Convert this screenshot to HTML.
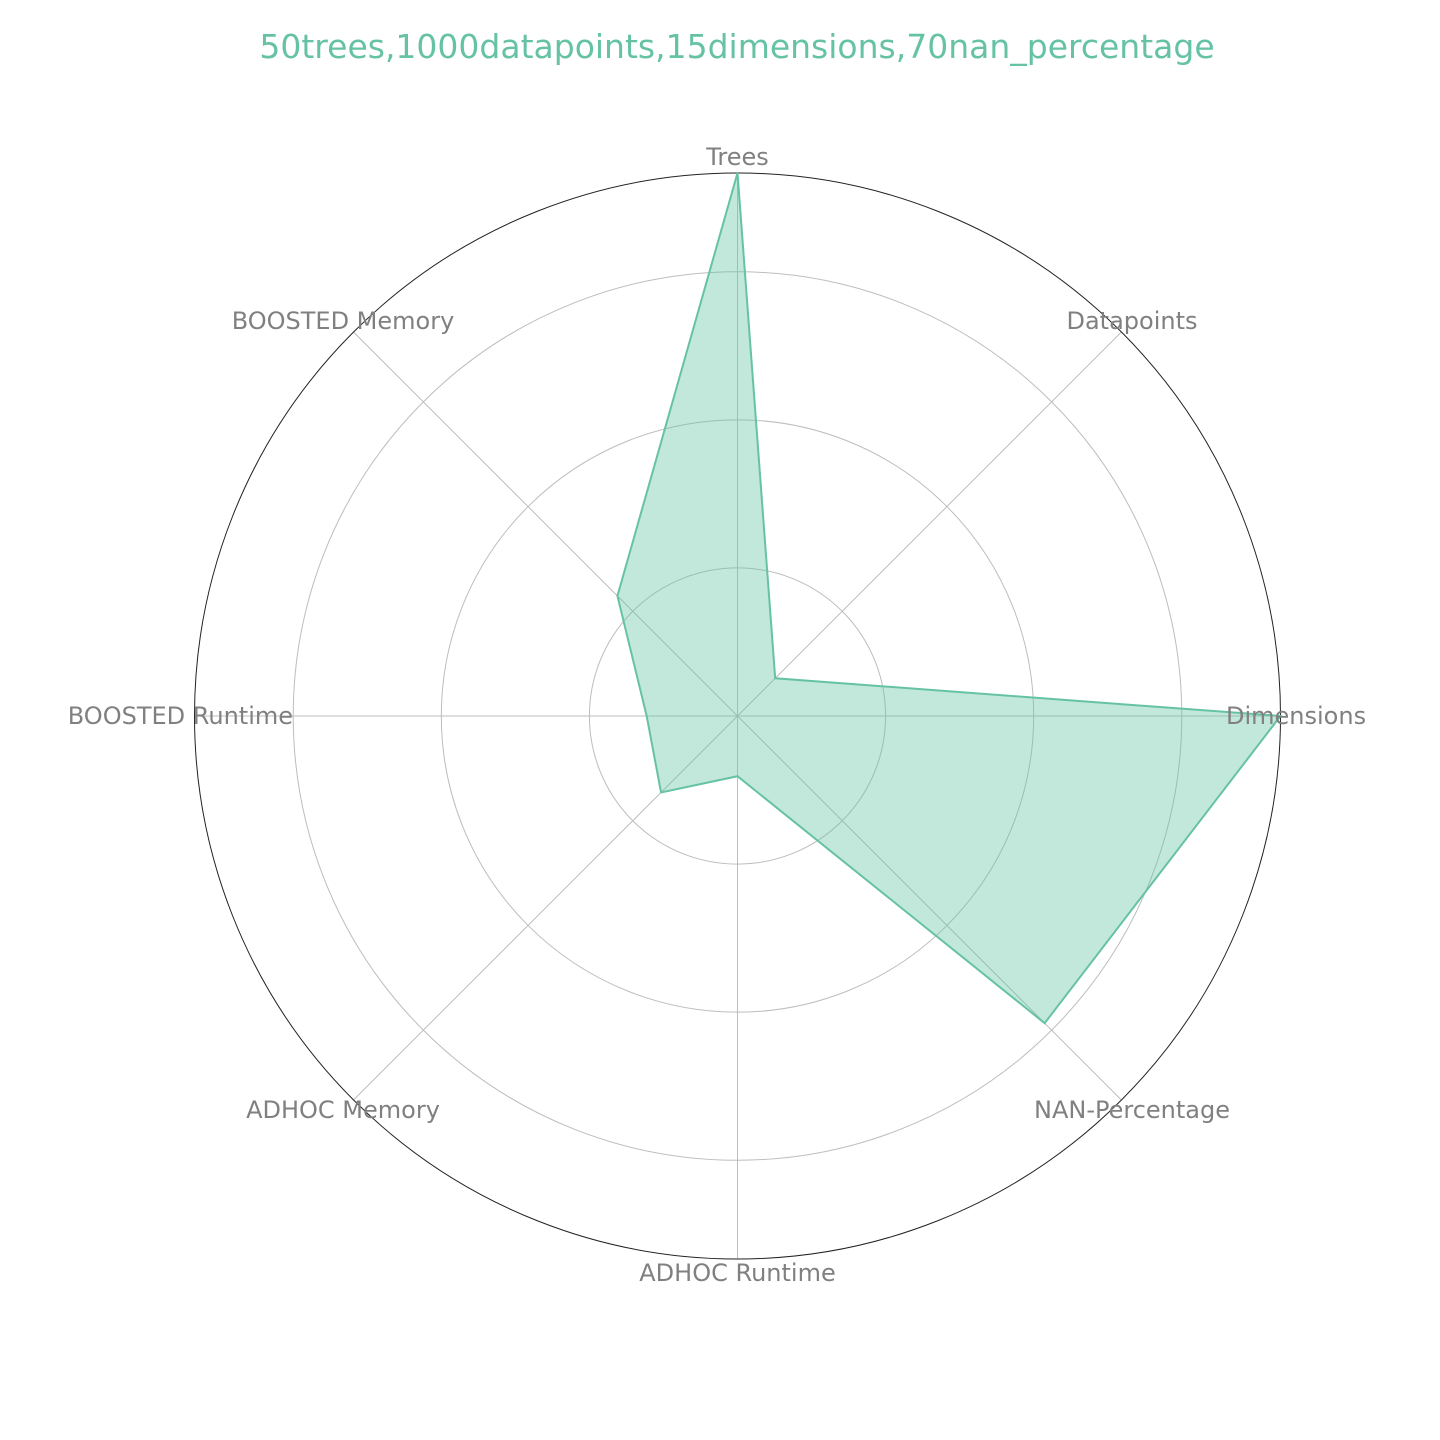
<!DOCTYPE html>
<html><head><meta charset="utf-8"><style>
html,body{margin:0;padding:0;background:#fff;}
svg{display:block;font-family:"Liberation Sans","DejaVu Sans",sans-serif;}
</style></head><body>
<svg id="chart" width="1440" height="1440" viewBox="0 0 1440 1440" xmlns="http://www.w3.org/2000/svg">
<text x="737" y="58" text-anchor="middle" font-size="33" fill="#66c2a5" font-family="DejaVu Sans, sans-serif">50trees,1000datapoints,15dimensions,70nan_percentage</text>
<g id="grid"></g>
<g id="series"></g>
<g id="labels"></g>
</svg>
<script>
const categories = ["Trees","Datapoints","Dimensions","NAN-Percentage","ADHOC Runtime","ADHOC Memory","BOOSTED Runtime","BOOSTED Memory"];
const values = [110, 10.8, 110, 88, 12.2, 21.9, 18.4, 34.4];
const gridTicks = [30, 60, 90];
const rMax = 110;

const NS = "http://www.w3.org/2000/svg";
const cx = 737.5, cy = 716, R = 543;
function rScale(v){ return v / rMax * R; }
function angle(i){ return -Math.PI/2 + i * 2*Math.PI/categories.length; }
function pt(i, v){ const a = angle(i), r = rScale(v); return [cx + r*Math.cos(a), cy + r*Math.sin(a)]; }
function mk(tag, attrs, parent){ const e = document.createElementNS(NS, tag); for (const k in attrs) e.setAttribute(k, attrs[k]); parent.appendChild(e); return e; }

const grid = document.getElementById('grid');
gridTicks.forEach(t => {
  const c = mk('circle', {cx:cx, cy:cy, r:rScale(t), fill:'none', stroke:'#bdbdbd', 'stroke-width':1}, grid);
  
  
});
categories.forEach((c, i) => {
  const [x, y] = pt(i, rMax);
  const l = mk('line', {x1:cx, y1:cy, x2:x, y2:y, stroke:'#bdbdbd', 'stroke-width':1}, grid);
  
  
});
const outer = mk('circle', {cx:cx, cy:cy, r:R, fill:'none', stroke:'#222', 'stroke-width':1}, grid);



const series = document.getElementById('series');
const pts = values.map((v, i) => pt(i, v).join(',')).join(' ');
const poly = mk('polygon', {points:pts, fill:'#66c2a5', 'fill-opacity':0.4, stroke:'#66c2a5', 'stroke-width':2, 'stroke-linejoin':'miter'}, series);



const labels = document.getElementById('labels');
categories.forEach((c, i) => {
  const a = angle(i);
  const lr = R + 17;
  let x = cx + lr*Math.cos(a), y = cy + lr*Math.sin(a);
  let anchor = 'middle';
  const cs = Math.cos(a);
  if (i === 0) { y = 165; }
  else if (i === 4) { y = 1281; }
  else if (i === 2) { x = 1226; anchor = 'start'; y = 724; }
  else if (i === 6) { x = 293; anchor = 'end'; y = 724; }
  else { y = (Math.sin(a) < 0 ? 329 : 1118); x = cs > 0 ? 1132 : 343; }
  const t = mk('text', {x:x, y:y, 'text-anchor':anchor, 'font-size':24, fill:'#808080', 'font-family':'DejaVu Sans, sans-serif'}, labels);
  t.textContent = c;
  
  
});
</script>
</body></html>
